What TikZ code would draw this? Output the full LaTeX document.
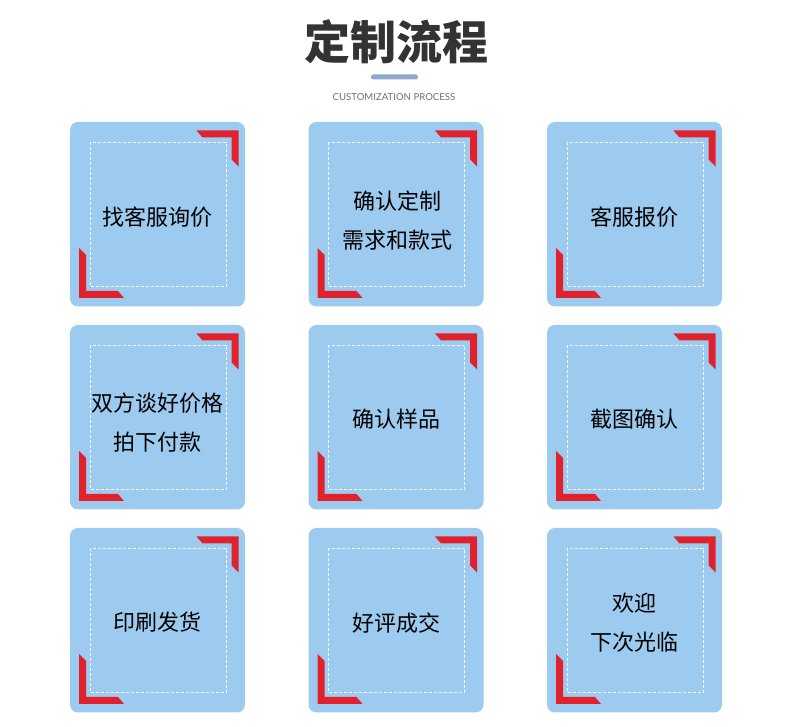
\documentclass[tikz,border=0pt]{standalone}
\usepackage{fontspec}
\setmainfont{Noto Sans CJK SC}
\newfontfamily\latinfont{Lato}
\usetikzlibrary{positioning,calc}
\definecolor{cardblue}{HTML}{9CCBEF}
\definecolor{markred}{HTML}{E1222C}
\definecolor{titlegray}{HTML}{333333}
\definecolor{barblue}{HTML}{8EA7CF}
\definecolor{subgray}{HTML}{707070}
\tikzset{
  card/.style={fill=cardblue,rounded corners=8pt,minimum width=175pt,minimum height=184.5pt,
    inner sep=0pt,outer sep=0pt},
  cardtext/.style={align=center,font=\fontsize{22}{39}\selectfont,text=black,inner sep=0pt},
  dashframe/.style={draw=white,dash pattern=on 3pt off 2pt,line width=0.9pt},
  redmark/.style={fill=markred},
  titletext/.style={font=\fontsize{46}{50}\selectfont\bfseries,text=titlegray},
  subtext/.style={font=\latinfont\fontsize{9.6}{12}\selectfont,text=subgray},
  titlebar/.style={fill=barblue,rounded corners=2.5pt,minimum width=47pt,minimum height=5pt,inner sep=0pt}
}

\begin{document}
\begin{tikzpicture}[x=1pt,y=1pt,node distance=18.5pt and 63.5pt]
\useasboundingbox[fill=white] (0,0) rectangle (790,727);
\node[titletext] (title) at (396,685) {定制流程};
\node[titlebar] (bar) at (394.5,650) {};
\node[subtext] (sub) at (394,630) {CUSTOMIZATION PROCESS};
% cards, row by row
\node[card,anchor=north west] (ask) at (70,605) {};
\node[card,right=of ask] (confirm) {};
\node[card,right=of confirm] (quote) {};
\node[card,below=of ask] (deal) {};
\node[card,right=of deal] (sample) {};
\node[card,right=of sample] (shot) {};
\node[card,below=of deal] (ship) {};
\node[card,right=of ship] (review) {};
\node[card,right=of review] (welcome) {};
% frames and red corners
\foreach \cname in {ask,confirm,quote,deal,sample,shot,ship,review,welcome} {
  \draw[dashframe] ($(\cname.north west)+(20,-20)$) rectangle ($(\cname.south east)+(-19,20)$);
  \fill[redmark] ($(\cname.north east)+(-6.5,-8.5)$) -- ++(-42,0) -- ++(6,-7) -- ++(29,0)
    -- ++(0,-22) -- ++(7,-7) -- cycle;
  \fill[redmark] ($(\cname.south west)+(9,8.5)$) -- ++(45,0) -- ++(-6,7) -- ++(-32,0)
    -- ++(0,36) -- ++(-7,7) -- cycle;
}
% step texts
\node[cardtext] (asktext) at ([yshift=-2.5pt]ask.center) {找客服询价};
\node[cardtext] (confirmtext) at ([xshift=1.5pt,yshift=-6pt]confirm.center) {确认定制\\需求和款式};
\node[cardtext] (quotetext) at ([yshift=-2.5pt]quote.center) {客服报价};
\node[cardtext] (dealtext) at ([yshift=-5pt]deal.center) {双方谈好价格\\拍下付款};
\node[cardtext] (sampletext) at ([yshift=-1.5pt]sample.center) {确认样品};
\node[cardtext] (shottext) at ([yshift=-2pt]shot.center) {截图确认};
\node[cardtext] (shiptext) at ([yshift=-2pt]ship.center) {印刷发货};
\node[cardtext] (reviewtext) at ([yshift=-2.5pt]review.center) {好评成交};
\node[cardtext] (welcometext) at ([yshift=-2pt]welcome.center) {欢迎\\下次光临};
\end{tikzpicture}
\end{document}
